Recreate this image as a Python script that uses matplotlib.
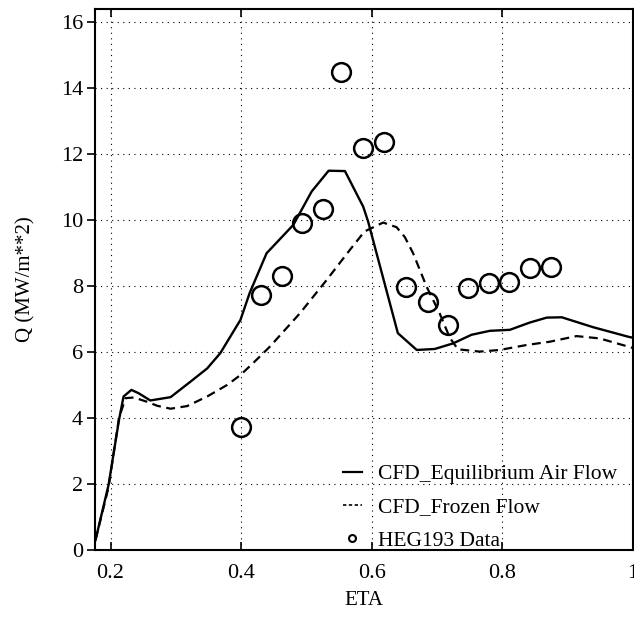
import matplotlib
matplotlib.use('Agg')
import matplotlib.pyplot as plt
from matplotlib.lines import Line2D
import numpy as np

plt.rcParams['font.family'] = ['Liberation Serif', 'DejaVu Serif']

# CFD equilibrium air flow (solid)
eq_eta = [0.177, 0.197, 0.213, 0.220, 0.232, 0.243, 0.261, 0.292, 0.3225, 0.348, 0.368,
          0.399, 0.413, 0.439, 0.480, 0.508, 0.534, 0.559, 0.587, 0.5945, 0.640, 0.669,
          0.6966, 0.7247, 0.7528, 0.781, 0.8115, 0.842, 0.868, 0.891, 0.939, 0.993, 1.0]
eq_q = [0.3, 1.97, 3.94, 4.65, 4.85, 4.75, 4.53, 4.63, 5.10, 5.50, 5.96,
        6.97, 7.78, 8.99, 9.85, 10.86, 11.49, 11.48, 10.40, 9.95, 6.57, 6.06,
        6.09, 6.26, 6.52, 6.64, 6.67, 6.89, 7.04, 7.05, 6.75, 6.46, 6.43]

# CFD frozen flow (dashed)
fr_eta = [0.177, 0.197, 0.213, 0.223, 0.2357, 0.256, 0.2714, 0.292, 0.3173, 0.348, 0.3786,
          0.399, 0.4245, 0.444, 0.49, 0.531, 0.5665, 0.589, 0.6175, 0.638, 0.6507, 0.6634,
          0.684, 0.704, 0.7196, 0.732, 0.7655, 0.796, 0.837, 0.8727, 0.9136, 0.949, 0.993, 1.0]
fr_q = [0.3, 1.9, 4.0, 4.60, 4.62, 4.49, 4.37, 4.28, 4.36, 4.65, 5.0,
        5.30, 5.78, 6.16, 7.17, 8.18, 9.09, 9.65, 9.92, 9.78, 9.48, 8.99,
        7.98, 7.17, 6.43, 6.08, 6.01, 6.06, 6.21, 6.31, 6.48, 6.41, 6.16, 6.12]

# HEG193 measurements
heg_eta = [0.400, 0.431, 0.462, 0.4925, 0.5247, 0.5537, 0.5869, 0.6185,
           0.652, 0.6855, 0.717, 0.7467, 0.779, 0.810, 0.843, 0.874]
heg_q = [3.73, 7.72, 8.30, 9.90, 10.32, 14.47, 12.17, 12.35,
         7.98, 7.52, 6.82, 7.93, 8.10, 8.13, 8.55, 8.57]

fig = plt.figure(figsize=(6.34, 6.24), dpi=100)
ax = fig.add_axes([0.1506, 0.1186, 0.8477, 0.867])

ax.plot(eq_eta, eq_q, color='black', linewidth=1.7)
ax.plot(fr_eta, fr_q, color='black', linewidth=1.6, linestyle=(0, (4, 2.5)))
ax.plot(heg_eta, heg_q, linestyle='none', marker='o', markersize=13.5,
        markerfacecolor='none', markeredgecolor='black', markeredgewidth=1.8)

ax.set_xlim(0.177, 1.0)
ax.set_ylim(0, 16.39)
ax.set_xticks([0.2, 0.4, 0.6, 0.8, 1.0])
ax.set_xticklabels(['0.2', '0.4', '0.6', '0.8', '1'])
ax.set_yticks(range(0, 17, 2))

ax.grid(True, color='black', linestyle=(0, (1, 4)), linewidth=0.8)
ax.tick_params(axis='both', labelsize=16, width=1.2, length=6)
ax.tick_params(axis='y', direction='out', pad=3, right=True)
ax.tick_params(axis='x', direction='in', pad=10, top=True)
for s in ax.spines.values():
    s.set_linewidth(1.5)

ax.set_xlabel('ETA', fontsize=15, labelpad=6)
ax.set_ylabel('Q (MW/m**2)', fontsize=15, labelpad=18)

handles = [
    Line2D([], [], color='black', linewidth=1.6),
    Line2D([], [], color='black', linewidth=1.2, linestyle=(0, (2, 1.5))),
    Line2D([], [], linestyle='none', marker='o', markersize=5,
           markerfacecolor='none', markeredgecolor='black', markeredgewidth=1.5),
]
labels = ['CFD_Equilibrium Air Flow', 'CFD_Frozen Flow', 'HEG193 Data']
ax.legend(handles, labels, loc='upper left', bbox_to_anchor=(0.46, 0.159),
          frameon=False, fontsize=15.5, handlelength=0.9, handletextpad=0.75,
          labelspacing=0.62, borderpad=0, borderaxespad=0)

fig.savefig('out.png', dpi=100)
